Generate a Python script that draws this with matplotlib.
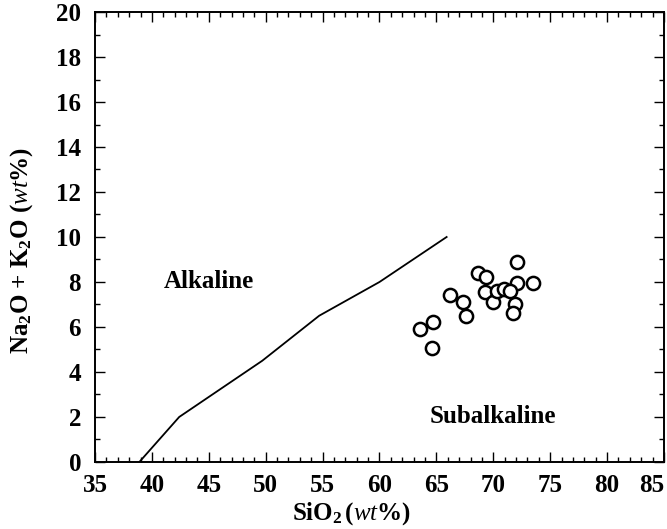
import matplotlib
matplotlib.use("Agg")
import matplotlib.pyplot as plt

# alkaline / subalkaline divide
line_sio2 = [38.9, 42.4, 49.7, 54.7, 60.0, 65.9]
line_alk = [0.0, 2.0, 4.5, 6.5, 8.0, 10.0]

# samples
sio2 = [72.1, 68.7, 69.4, 72.1, 73.5, 69.3, 70.0, 70.3, 70.9, 71.5,
        71.9, 71.7, 66.2, 67.3, 67.6, 64.7, 63.6, 64.6]
alk = [8.9, 8.4, 8.2, 7.96, 7.96, 7.56, 7.1, 7.6, 7.7, 7.6,
       7.0, 6.6, 7.4, 7.1, 6.5, 6.2, 5.9, 5.07]

x_ticks = list(range(35, 86, 5))
y_ticks = list(range(0, 21, 2))

plt.rcParams['font.family'] = ['Liberation Serif', 'DejaVu Serif']
plt.rcParams['mathtext.fontset'] = 'custom'
plt.rcParams['mathtext.rm'] = 'Liberation Serif:bold'
plt.rcParams['mathtext.bf'] = 'Liberation Serif:bold'
plt.rcParams['mathtext.it'] = 'Liberation Serif:italic'

fig = plt.figure(figsize=(6.67, 5.29), dpi=100)
ax = fig.add_axes([0.1424, 0.1267, 0.8531, 0.8506])

ax.plot(line_sio2, line_alk, color='black', lw=1.3)
ax.plot(sio2, alk, 'o', mfc='white', mec='black', ms=9.5, mew=1.8, ls='none')

ax.text(45.0, 8.0, 'Alkaline', fontsize=18, fontweight='bold', ha='center', va='center')
ax.text(70.0, 2.0, 'Subalkaline', fontsize=18, fontweight='bold', ha='center', va='center')

ax.set_xlim(35, 85)
ax.set_ylim(0, 20)
ax.set_xticks(x_ticks, [str(v) for v in x_ticks], fontweight='bold')
ax.set_yticks(y_ticks, [str(v) for v in y_ticks], fontweight='bold')
ax.set_xticks(range(35, 86), minor=True)
ax.set_yticks(range(0, 21), minor=True)
ax.tick_params(which='both', direction='in', top=True, right=True, width=1.0)
ax.tick_params(which='major', length=7, labelsize=18)
ax.tick_params(axis='x', which='major', pad=9)
ax.tick_params(axis='y', which='major', pad=10)
ax.tick_params(which='minor', length=3.5)
ax.get_xticklabels()[-1].set_horizontalalignment('right')
for s in ax.spines.values():
    s.set_linewidth(1.4)

ax.set_xlabel(r'SiO$_2$' + r'$\,\mathit{(wt\%)}$', fontsize=18, fontweight='bold')
ax.set_ylabel(r'Na$_2$O + K$_2$O ' + r'$\mathit{(wt\%)}$', fontsize=18, fontweight='bold')
ax.xaxis.set_label_coords(0.45, -0.085)
ax.yaxis.set_label_coords(-0.105, 0.47)

fig.savefig('out.png', dpi=100)
